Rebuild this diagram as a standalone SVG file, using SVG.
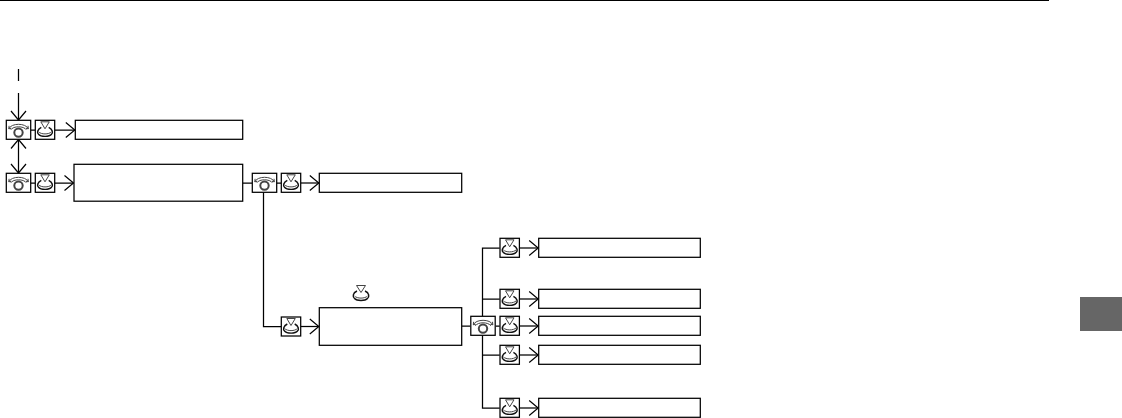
<svg xmlns="http://www.w3.org/2000/svg" width="1122" height="418" viewBox="0 0 1122 418">
<style>
.b{fill:#fff;stroke:#000;stroke-width:1.25}
.c{fill:none;stroke:#000;stroke-width:1.25}
.i{fill:none;stroke:#444;stroke-width:1}
.k{fill:none;stroke:#111;stroke-width:1.4}
</style>
<defs>
<marker id="a" markerUnits="userSpaceOnUse" markerWidth="12" markerHeight="18" refX="10" refY="9" orient="auto"><path d="M1 1.500 10 9 1 16.500" fill="none" stroke="#000" stroke-width="1.2"/></marker>
<g id="r">
<rect class="b" x="0" y="0" width="24.4" height="19"/>
<path class="i" d="M2.500 8.500C5 2.500 19.500 2.500 22 8.500M4.500 9.500C7 5.500 17.500 5.500 20 9.500M2.500 8.500 5 8M2.500 8.500 2.800 5.500M22 8.500 19.500 8M22 8.500 21.700 5.500"/>
<circle cx="12.200" cy="12.300" r="4.200" fill="none" stroke="#444" stroke-width="2"/>
</g>
<g id="p">
<rect class="b" x="0" y="0" width="19.400" height="19"/>
<path class="i" d="M5.500 1.500H14L9.700 8.500Z"/>
<path class="k" d="M6 7C2 9 1.500 12.500 3.200 14 5.500 16.800 14 16.800 16.200 14 17.900 12.500 17.400 9 13.400 7"/>
<path class="i" d="M3.200 11.500C6 14.300 13.500 14.300 16.200 11.500"/>
</g>
</defs>
<rect width="1122" height="418" fill="#fff"/>
<path d="M0 .5H1049" stroke="#000" stroke-width="1.200"/>
<rect x="1080" y="297" width="42" height="34" fill="#666"/>
<g id="connectors">
<path class="c" d="M18.500 69V81"/>
<path class="c" d="M18.500 93V120" marker-end="url(#a)"/>
<path class="c" d="M18.500 156V139.500" marker-end="url(#a)"/>
<path class="c" d="M18.500 156V173" marker-end="url(#a)"/>
<path class="c" d="M30.700 130H35.300M54.700 130H74.800" marker-end="url(#a)"/>
<path class="c" d="M30.700 183H35.300M54.700 183H73.500" marker-end="url(#a)"/>
<path class="c" d="M242.700 183H252.300M276.700 183H281.300"/>
<path class="c" d="M300.700 183H318.800" marker-end="url(#a)"/>
<path class="c" d="M263.500 192.300V326.500H281.300"/>
<path class="c" d="M300.700 326.500H318.800" marker-end="url(#a)"/>
<path class="c" d="M461.700 326H470.300M495.700 326H499.700"/>
<path class="c" d="M482.500 316.300V248H499.700M482.500 299H499.700M482.500 335.300V408H499.700M482.500 355H499.700"/>
<path class="c" d="M519.700 248H538.200" marker-end="url(#a)"/>
<path class="c" d="M519.700 299H538.200" marker-end="url(#a)"/>
<path class="c" d="M519.700 326H538.200" marker-end="url(#a)"/>
<path class="c" d="M519.700 355H538.200" marker-end="url(#a)"/>
<path class="c" d="M519.700 408H538.200" marker-end="url(#a)"/>
</g>
<g id="n1"><use href="#r" x="6.300" y="120.300"/></g>
<g id="n2"><use href="#p" x="35.300" y="120.300"/></g>
<g id="n3"><rect class="b" x="75.300" y="120.300" width="167.400" height="19"/></g>
<g id="n4"><use href="#r" x="6.300" y="173.300"/></g>
<g id="n5"><use href="#p" x="35.300" y="173.300"/></g>
<g id="n6"><rect class="b" x="74" y="164.300" width="168.700" height="36.900"/></g>
<g id="n7"><use href="#r" x="252.300" y="173.300"/></g>
<g id="n8"><use href="#p" x="281.300" y="173.300"/></g>
<g id="n9"><rect class="b" x="319.300" y="173.300" width="142.400" height="19"/></g>
<g id="n10"><use href="#p" x="281.300" y="317"/></g>
<g id="n11"><rect class="b" x="319.300" y="307.700" width="142.400" height="37.600"/></g>
<g id="n12"><path class="i" d="M356.500 285.500H365.500L361 292.500Z"/><path class="k" d="M357 291C352.500 293 352.500 297 354.500 298.500 357 301.200 365 301.200 367.500 298.500 369.500 297 369.500 293 365 291"/><path class="i" d="M354.500 296C357 298.800 365 298.800 367.500 296"/></g>
<g id="n13"><use href="#r" x="470.800" y="316.300"/></g>
<g id="n14"><use href="#p" x="500" y="238.300"/></g>
<g id="n15"><rect class="b" x="538.700" y="238.300" width="161.600" height="19"/></g>
<g id="n16"><use href="#p" x="500" y="289.300"/></g>
<g id="n17"><rect class="b" x="538.700" y="289.300" width="161.600" height="19"/></g>
<g id="n18"><use href="#p" x="500" y="316.300"/></g>
<g id="n19"><rect class="b" x="538.700" y="316.300" width="161.600" height="19"/></g>
<g id="n20"><use href="#p" x="500" y="345.300"/></g>
<g id="n21"><rect class="b" x="538.700" y="345.300" width="161.600" height="19"/></g>
<g id="n22"><use href="#p" x="500" y="398.300"/></g>
<g id="n23"><rect class="b" x="538.700" y="398.300" width="161.600" height="19"/></g>
</svg>
